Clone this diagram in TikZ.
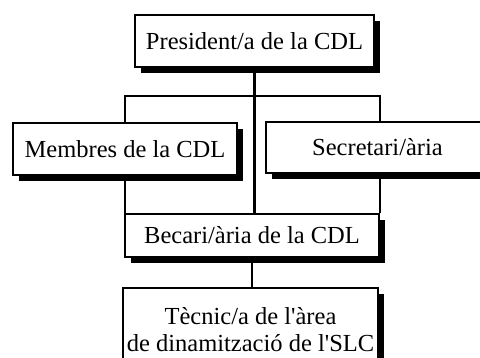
\documentclass[tikz,border=0pt]{standalone}
\usepackage{fontspec}
\setmainfont{Liberation Serif}
\usetikzlibrary{shadows}
\begin{document}
\begin{tikzpicture}[x=1pt,y=-1pt,
  box/.style={draw=black, line width=2pt, fill=white, inner sep=0pt,
    anchor=north west, align=center,
    font=\fontsize{24.5}{27}\selectfont,
    general shadow={fill=black, shadow xshift=6pt, shadow yshift=-6pt}},
  link/.style={draw=black, line width=2.2pt}]
\useasboundingbox (0,0) rectangle (480,358);
\clip (0,0) rectangle (480,358);
\fill[white] (0,0) rectangle (480,358);
\node[box, minimum width=239pt, minimum height=52pt] (pres) at (134,14) {President/a de la CDL};
\node[box, minimum width=224pt, minimum height=52pt] (memb) at (12,122) {Membres de la CDL};
\node[box, minimum width=223pt, minimum height=51pt] (secr) at (265,121) {Secretari/ària};
\node[box, minimum width=254pt, minimum height=43pt] (bec) at (124,213) {Becari/ària de la CDL};
\node[box, minimum width=255pt, minimum height=84pt] (tec) at (122,287) {Tècnic/a de l\textquotesingle àrea\\de dinamització de l\textquotesingle SLC};
\coordinate (bus) at (253,96);
\draw[link] (pres.south) -- (pres.south |- bec.north);
\draw[link] (memb.north) -- (memb.north |- bus) -- (bec.north east |- bus) -- (bec.north east |- secr.north);
\draw[link] (memb.south) -- (memb.south |- bec.north);
\draw[link] (bec.north east |- secr.south) -- (bec.north east);
\draw[link] (bec.south) -- (bec.south |- tec.north);
\end{tikzpicture}
\end{document}
